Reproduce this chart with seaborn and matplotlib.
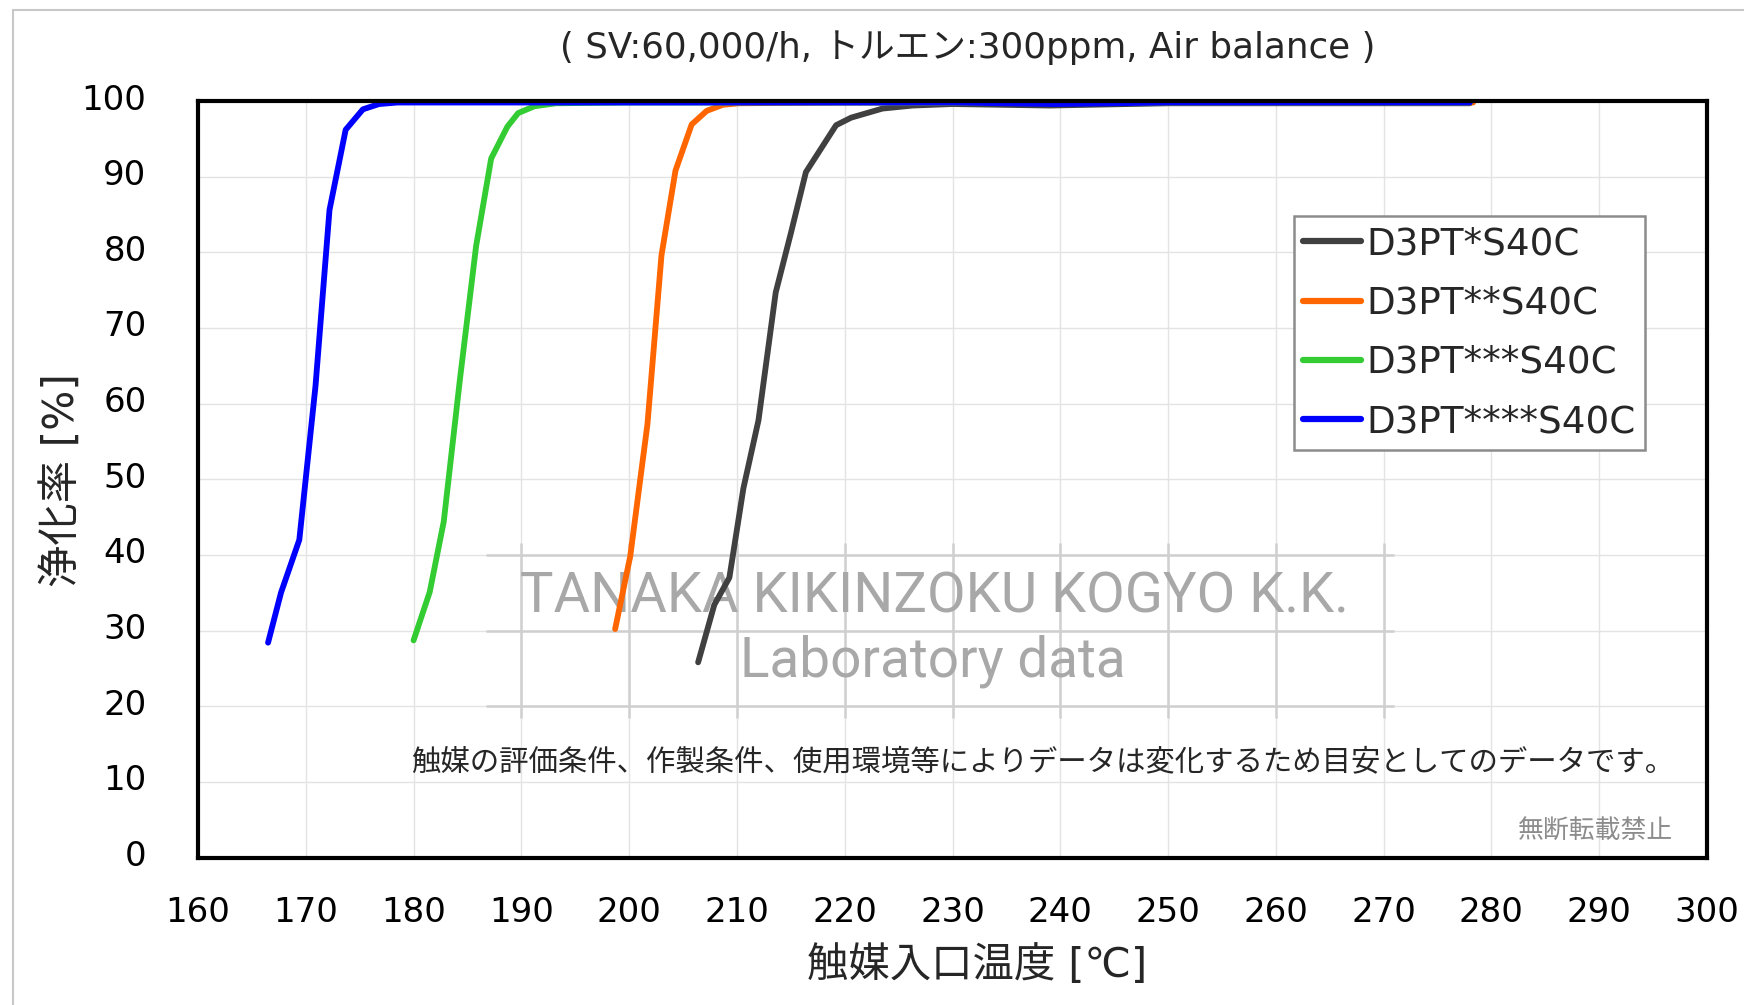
import numpy as np
import pandas as pd
import seaborn as sns
import matplotlib.pyplot as plt
from matplotlib.lines import Line2D
from matplotlib.transforms import ScaledTranslation

# catalyst inlet temperature [C] vs conversion [%]
temp_1 = [206.4, 207.9, 209.3, 210.6, 212.0, 213.6, 215.0, 216.4, 219.2, 220.6,
          223.5, 226.3, 230.0, 239.0, 250.0, 260.0, 270.0, 278.0]
conv_1 = [25.8, 33.4, 37.0, 48.8, 57.8, 74.7, 82.5, 90.6, 96.8, 97.8,
          99.0, 99.4, 99.6, 99.4, 99.7, 99.7, 99.7, 99.7]

temp_2 = [198.7, 200.1, 201.7, 203.0, 204.3, 205.8, 207.2, 208.7, 210.2,
          220.0, 240.0, 260.0, 278.3]
conv_2 = [30.2, 39.8, 57.3, 79.6, 90.8, 96.9, 98.7, 99.5, 99.7,
          99.8, 99.8, 99.8, 99.8]

temp_3 = [180.0, 181.5, 182.8, 184.3, 185.8, 187.2, 188.7, 189.7, 191.2, 193.2,
          200.0, 220.0, 240.0, 260.0, 278.0]
conv_3 = [28.7, 35.1, 44.4, 63.2, 80.8, 92.4, 96.6, 98.4, 99.3, 99.7,
          99.8, 99.8, 99.8, 99.8, 99.8]

temp_4 = [166.5, 167.7, 169.4, 170.9, 172.2, 173.7, 175.3, 176.8, 178.5,
          190.0, 210.0, 230.0, 239.5, 250.0, 265.0, 278.0]
conv_4 = [28.4, 35.0, 42.0, 62.3, 85.6, 96.2, 98.9, 99.6, 99.8,
          99.8, 99.8, 99.8, 99.6, 99.8, 99.8, 99.8]

labels = ["D3PT*S40C", "D3PT**S40C", "D3PT***S40C", "D3PT****S40C"]
colors = ["#404040", "#ff6600", "#33cc33", "#0000ff"]

x_ticks = list(range(160, 301, 10))
y_ticks = list(range(0, 101, 10))

# watermark grid (decoration of the "Laboratory data" stamp)
wm_rows = [20, 30, 40]
wm_cols = list(range(190, 271, 10))

frames = []
for lab, t, c in zip(labels, [temp_1, temp_2, temp_3, temp_4], [conv_1, conv_2, conv_3, conv_4]):
    frames.append(pd.DataFrame({"temp": t, "conv": c, "catalyst": lab}))
df = pd.concat(frames, ignore_index=True)

sns.set_style("white")
plt.rcParams['font.family'] = ['DejaVu Sans', 'Noto Sans CJK JP']

W, H = 1744, 1005
fig = plt.figure(figsize=(W / 100, H / 100), dpi=100)
ax = fig.add_axes([198 / W, 1 - 857.5 / H, (1707 - 198) / W, (857.5 - 101) / H])

ax.grid(True, color="#e3e3e3", linewidth=1.0, zorder=0)
ax.set_axisbelow(True)

# watermark stamp
ax.hlines(wm_rows, 186.7, 271, colors="#cfcfcf", linewidth=1.8, zorder=1)
ax.vlines(wm_cols, 18.5, 41.6, colors="#cfcfcf", linewidth=1.8, zorder=1)
ax.text(228.3, 34.4, "TANAKA KIKINZOKU KOGYO K.K.", family="Roboto", fontsize=40.4,
        color="#a8a8a8", ha="center", va="center", zorder=1)
ax.text(228.2, 25.9, "Laboratory data", family="Roboto", fontsize=39.5,
        color="#a8a8a8", ha="center", va="center", zorder=1)

sns.lineplot(data=df, x="temp", y="conv", hue="catalyst", palette=colors,
             hue_order=labels, estimator=None, sort=False, linewidth=4.2,
             ax=ax, legend=False, zorder=3)
for ln in ax.get_lines():
    ln.set_solid_capstyle("round")
    ln.set_solid_joinstyle("round")

ax.set_xlim(160, 300)
ax.set_ylim(0, 100)
ax.set_xticks(x_ticks)
ax.set_yticks(y_ticks)
ax.tick_params(axis="both", direction="in", length=10, width=1.5, color="#808080",
               labelsize=24.5, labelcolor="black")
ax.tick_params(axis="y", pad=37)
ax.tick_params(axis="x", pad=28)
shift = ScaledTranslation(0, 4.5 / 100, fig.dpi_scale_trans)
for lbl in ax.get_yticklabels():
    lbl.set_transform(lbl.get_transform() + shift)
for s in ax.spines.values():
    s.set_color("black")
    s.set_linewidth(3.0)
    s.set_zorder(5)

ax.set_xlabel("")
ax.set_ylabel("")
fig.text(977 / W, 1 - 966 / H, "触媒入口温度 [℃]", fontsize=29.8, ha="center", va="center")
fig.text(62 / W, 1 - 480 / H, "浄化率 [%]", fontsize=30.5, ha="center", va="center",
         rotation=90)
fig.text(968 / W, 1 - 48 / H, "( SV:60,000/h, トルエン:300ppm, Air balance )",
         fontsize=25.7, ha="center", va="center")

fig.text(1043 / W, 1 - 762 / H,
         "触媒の評価条件、作製条件、使用環境等によりデータは変化するため目安としてのデータです。",
         family="Noto Sans CJK JP", fontsize=21.2, ha="center", va="center")
fig.text(1596 / W, 1 - 831 / H, "無断転載禁止", family="Noto Sans CJK JP", fontsize=18.6,
         color="#8c8c8c", ha="center", va="center")

handles = [Line2D([0], [0], color=c, linewidth=4.5, solid_capstyle="round") for c in colors]
leg = ax.legend(handles, labels, loc="upper left", bbox_to_anchor=(1294 / W, 1 - 216 / H),
                bbox_transform=fig.transFigure, borderaxespad=0, fontsize=26.8,
                handlelength=1.55, handletextpad=0.15, labelspacing=0.6,
                borderpad=0.25, fancybox=False, framealpha=1, edgecolor="#8c8c8c")
leg.get_frame().set_linewidth(1.8)
leg.set_zorder(6)

# outer frame of the original picture
fig.add_artist(Line2D([13 / W, 1.0], [1 - 10 / H, 1 - 10 / H], color="#c8c8c8", linewidth=1.5))
fig.add_artist(Line2D([13 / W, 13 / W], [0.0, 1 - 10 / H], color="#c8c8c8", linewidth=1.5))

fig.savefig("out.png", dpi=100)
